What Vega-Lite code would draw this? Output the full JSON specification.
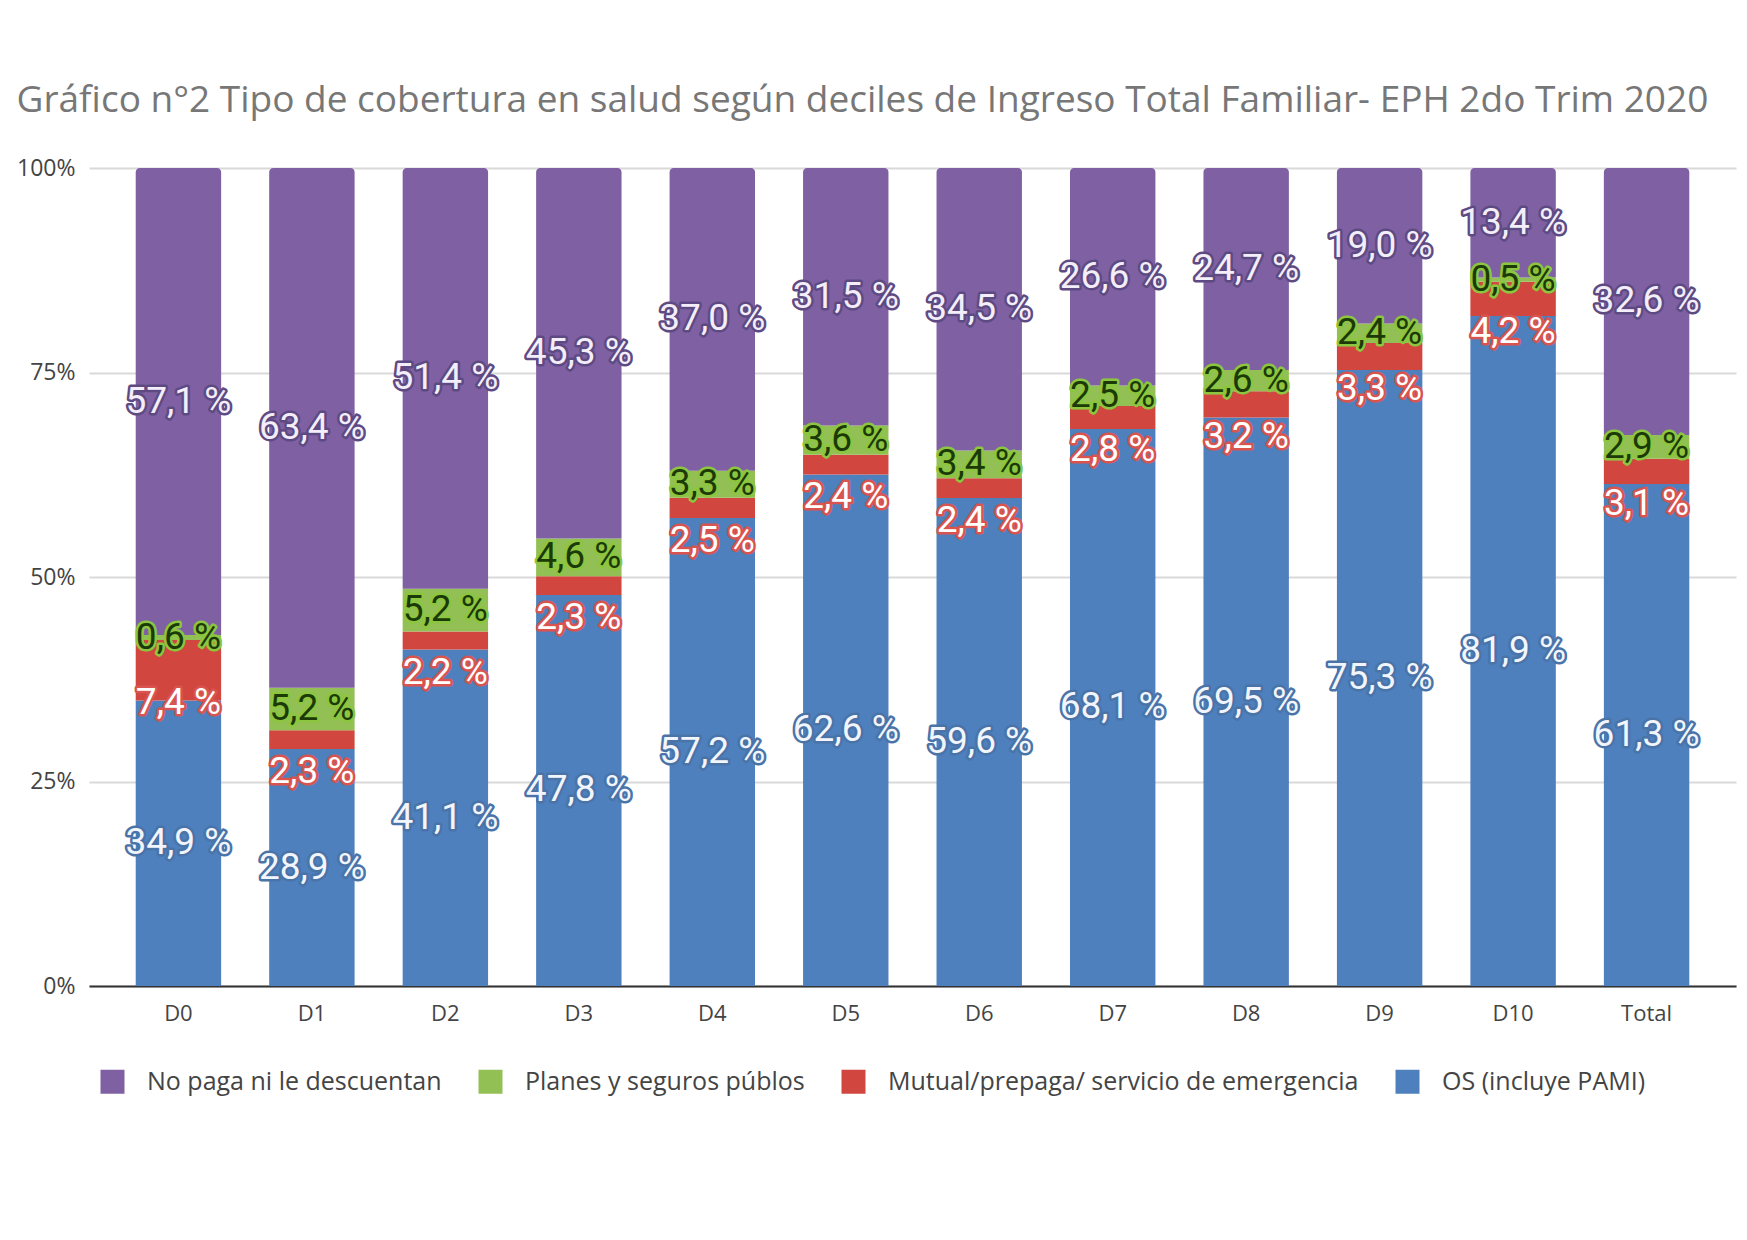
{
  "$schema": "https://vega.github.io/schema/vega-lite/v6.json",
  "width": 1647,
  "height": 818,
  "autosize": {"type": "none"},
  "padding": {"left": 89, "top": 168, "right": 11, "bottom": 254},
  "background": "white",
  "title": {
    "text": "Gráfico n°2 Tipo de cobertura en salud según deciles de Ingreso Total Familiar- EPH 2do Trim 2020",
    "anchor": "start",
    "frame": "bounds",
    "font": "Open Sans",
    "fontSize": 37,
    "fontWeight": "normal",
    "color": "#777777",
    "offset": 37
  },
  "data": {
    "values": [
      {"decil": "D0", "cobertura": "OS (incluye PAMI)", "valor": 34.9},
      {"decil": "D0", "cobertura": "Mutual/prepaga/ servicio de emergencia", "valor": 7.4},
      {"decil": "D0", "cobertura": "Planes y seguros públos", "valor": 0.6},
      {"decil": "D0", "cobertura": "No paga ni le descuentan", "valor": 57.1},
      {"decil": "D1", "cobertura": "OS (incluye PAMI)", "valor": 28.9},
      {"decil": "D1", "cobertura": "Mutual/prepaga/ servicio de emergencia", "valor": 2.3},
      {"decil": "D1", "cobertura": "Planes y seguros públos", "valor": 5.2},
      {"decil": "D1", "cobertura": "No paga ni le descuentan", "valor": 63.4},
      {"decil": "D2", "cobertura": "OS (incluye PAMI)", "valor": 41.1},
      {"decil": "D2", "cobertura": "Mutual/prepaga/ servicio de emergencia", "valor": 2.2},
      {"decil": "D2", "cobertura": "Planes y seguros públos", "valor": 5.2},
      {"decil": "D2", "cobertura": "No paga ni le descuentan", "valor": 51.4},
      {"decil": "D3", "cobertura": "OS (incluye PAMI)", "valor": 47.8},
      {"decil": "D3", "cobertura": "Mutual/prepaga/ servicio de emergencia", "valor": 2.3},
      {"decil": "D3", "cobertura": "Planes y seguros públos", "valor": 4.6},
      {"decil": "D3", "cobertura": "No paga ni le descuentan", "valor": 45.3},
      {"decil": "D4", "cobertura": "OS (incluye PAMI)", "valor": 57.2},
      {"decil": "D4", "cobertura": "Mutual/prepaga/ servicio de emergencia", "valor": 2.5},
      {"decil": "D4", "cobertura": "Planes y seguros públos", "valor": 3.3},
      {"decil": "D4", "cobertura": "No paga ni le descuentan", "valor": 37.0},
      {"decil": "D5", "cobertura": "OS (incluye PAMI)", "valor": 62.6},
      {"decil": "D5", "cobertura": "Mutual/prepaga/ servicio de emergencia", "valor": 2.4},
      {"decil": "D5", "cobertura": "Planes y seguros públos", "valor": 3.6},
      {"decil": "D5", "cobertura": "No paga ni le descuentan", "valor": 31.5},
      {"decil": "D6", "cobertura": "OS (incluye PAMI)", "valor": 59.6},
      {"decil": "D6", "cobertura": "Mutual/prepaga/ servicio de emergencia", "valor": 2.4},
      {"decil": "D6", "cobertura": "Planes y seguros públos", "valor": 3.4},
      {"decil": "D6", "cobertura": "No paga ni le descuentan", "valor": 34.5},
      {"decil": "D7", "cobertura": "OS (incluye PAMI)", "valor": 68.1},
      {"decil": "D7", "cobertura": "Mutual/prepaga/ servicio de emergencia", "valor": 2.8},
      {"decil": "D7", "cobertura": "Planes y seguros públos", "valor": 2.5},
      {"decil": "D7", "cobertura": "No paga ni le descuentan", "valor": 26.6},
      {"decil": "D8", "cobertura": "OS (incluye PAMI)", "valor": 69.5},
      {"decil": "D8", "cobertura": "Mutual/prepaga/ servicio de emergencia", "valor": 3.2},
      {"decil": "D8", "cobertura": "Planes y seguros públos", "valor": 2.6},
      {"decil": "D8", "cobertura": "No paga ni le descuentan", "valor": 24.7},
      {"decil": "D9", "cobertura": "OS (incluye PAMI)", "valor": 75.3},
      {"decil": "D9", "cobertura": "Mutual/prepaga/ servicio de emergencia", "valor": 3.3},
      {"decil": "D9", "cobertura": "Planes y seguros públos", "valor": 2.4},
      {"decil": "D9", "cobertura": "No paga ni le descuentan", "valor": 19.0},
      {"decil": "D10", "cobertura": "OS (incluye PAMI)", "valor": 81.9},
      {"decil": "D10", "cobertura": "Mutual/prepaga/ servicio de emergencia", "valor": 4.2},
      {"decil": "D10", "cobertura": "Planes y seguros públos", "valor": 0.5},
      {"decil": "D10", "cobertura": "No paga ni le descuentan", "valor": 13.4},
      {"decil": "Total", "cobertura": "OS (incluye PAMI)", "valor": 61.3},
      {"decil": "Total", "cobertura": "Mutual/prepaga/ servicio de emergencia", "valor": 3.1},
      {"decil": "Total", "cobertura": "Planes y seguros públos", "valor": 2.9},
      {"decil": "Total", "cobertura": "No paga ni le descuentan", "valor": 32.6}
    ]
  },
  "transform": [
    {
      "calculate": "indexof(['OS (incluye PAMI)', 'Mutual/prepaga/ servicio de emergencia', 'Planes y seguros públos', 'No paga ni le descuentan'], datum.cobertura)",
      "as": "orden"
    },
    {
      "stack": "valor",
      "groupby": ["decil"],
      "offset": "normalize",
      "sort": [{"field": "orden", "order": "ascending"}],
      "as": ["y0", "y1"]
    },
    {
      "calculate": "(datum.y0 + datum.y1) / 2 - (datum.orden == 1 ? 0.04 : 0)",
      "as": "ly"
    },
    {
      "calculate": "replace(format(datum.valor, '.1f'), '.', ',') + ' %'",
      "as": "etiqueta"
    }
  ],
  "encoding": {
    "x": {
      "field": "decil",
      "type": "nominal",
      "sort": null,
      "scale": {"paddingInner": 0.36, "paddingOuter": 0.35},
      "axis": {
        "title": null,
        "labelAngle": 0,
        "ticks": false,
        "tickSize": 0,
        "labelPadding": 17,
        "labelFont": "Open Sans",
        "labelFontSize": 22,
        "labelColor": "#444444",
        "domainColor": "#333333",
        "domainWidth": 2,
        "grid": false
      }
    },
    "color": {
      "field": "cobertura",
      "type": "nominal",
      "scale": {
        "domain": ["No paga ni le descuentan", "Planes y seguros públos", "Mutual/prepaga/ servicio de emergencia", "OS (incluye PAMI)"],
        "range": ["#7f61a3", "#93c054", "#d1473f", "#4d80bd"]
      },
      "legend": {
        "title": null,
        "orient": "none",
        "legendX": 11,
        "legendY": 901,
        "direction": "horizontal",
        "symbolType": "square",
        "symbolSize": 576,
        "symbolStrokeWidth": 0,
        "labelFont": "Open Sans",
        "labelFontSize": 25,
        "labelColor": "#444444",
        "labelOffset": 22,
        "columnPadding": 36,
        "labelLimit": 700
      }
    }
  },
  "layer": [
    {
      "transform": [{"filter": "datum.orden != 3"}],
      "mark": {"type": "bar"},
      "encoding": {
        "y": {
          "field": "y0",
          "type": "quantitative",
          "scale": {"domain": [0, 1], "nice": false},
          "axis": {
            "title": null,
            "values": [0, 0.25, 0.5, 0.75, 1],
            "format": ".0%",
            "ticks": false,
            "tickSize": 0,
            "domain": false,
            "labelPadding": 14,
            "labelFont": "Open Sans",
            "labelFontSize": 23,
            "labelColor": "#444444",
            "gridColor": "#d9d9d9",
            "gridWidth": 2
          }
        },
        "y2": {"field": "y1"}
      }
    },
    {
      "transform": [{"filter": "datum.orden == 3"}],
      "mark": {"type": "bar", "cornerRadiusTopLeft": 4, "cornerRadiusTopRight": 4},
      "encoding": {
        "y": {"field": "y0", "type": "quantitative"},
        "y2": {"field": "y1"}
      }
    },
    {
      "mark": {
        "type": "text",
        "font": "Roboto",
        "fontSize": 37,
        "align": "center",
        "baseline": "middle",
        "strokeWidth": 5,
        "strokeJoin": "round",
        "fillOpacity": 0
      },
      "encoding": {
        "y": {"field": "ly", "type": "quantitative"},
        "text": {"field": "etiqueta"},
        "color": null,
        "stroke": {
          "field": "cobertura",
          "type": "nominal",
          "scale": {
            "domain": ["No paga ni le descuentan", "Planes y seguros públos", "Mutual/prepaga/ servicio de emergencia", "OS (incluye PAMI)"],
            "range": ["#5e4a82", "#8cc63f", "#d9534f", "#4a73a8"]
          },
          "legend": null
        }
      }
    },
    {
      "mark": {
        "type": "text",
        "font": "Roboto",
        "fontSize": 37,
        "align": "center",
        "baseline": "middle"
      },
      "encoding": {
        "y": {"field": "ly", "type": "quantitative"},
        "text": {"field": "etiqueta"},
        "color": null,
        "fill": {
          "field": "cobertura",
          "type": "nominal",
          "scale": {
            "domain": ["No paga ni le descuentan", "Planes y seguros públos", "Mutual/prepaga/ servicio de emergencia", "OS (incluye PAMI)"],
            "range": ["#f4eefa", "#1c3a08", "#ffffff", "#f2f6fc"]
          },
          "legend": null
        }
      }
    }
  ],
  "config": {
    "view": {"stroke": null}
  }
}
